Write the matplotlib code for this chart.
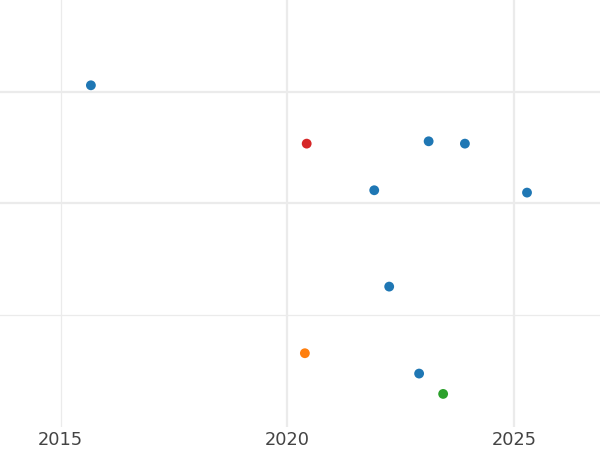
import matplotlib
matplotlib.use("Agg")
import matplotlib.pyplot as plt

# Data
years = [2015.67, 2020.43, 2023.12, 2023.92, 2021.92, 2025.29, 2022.25, 2020.39, 2022.91, 2023.44]
values = [3.057, 2.535, 2.556, 2.535, 2.118, 2.097, 1.256, 0.660, 0.478, 0.296]
groups = ["a", "b", "a", "a", "a", "a", "a", "c", "a", "d"]
group_colors = {"a": "#1f77b4", "b": "#d62728", "c": "#ff7f0e", "d": "#2ca02c"}
x_ticks = [2015, 2020, 2025]

fig = plt.figure(figsize=(6, 4.5), dpi=100)
ax = fig.add_axes([0, 23 / 450, 1, 427 / 450])

# gridlines
for xv, lw in zip(x_ticks, [0.9, 1.6, 1.6]):
    ax.axvline(xv, color="#ebebeb", lw=lw, zorder=0)
for yv, lw in zip([1, 2, 3], [0.9, 1.6, 1.6]):
    ax.axhline(yv, color="#ebebeb", lw=lw, zorder=0)

colors = [group_colors[g] for g in groups]
ax.scatter(years, values, c=colors, s=50, edgecolors="none", zorder=3)

ax.set_xlim(2013.665, 2026.9)
ax.set_ylim(0.0, 3.82)
ax.set_xticks(x_ticks)
ax.set_xticklabels([str(t) for t in x_ticks], fontsize=12.8, color="#444444")
ax.set_yticks([])
ax.tick_params(axis="x", length=0, pad=3)
for s in ax.spines.values():
    s.set_visible(False)

fig.savefig("out.png", dpi=100)
